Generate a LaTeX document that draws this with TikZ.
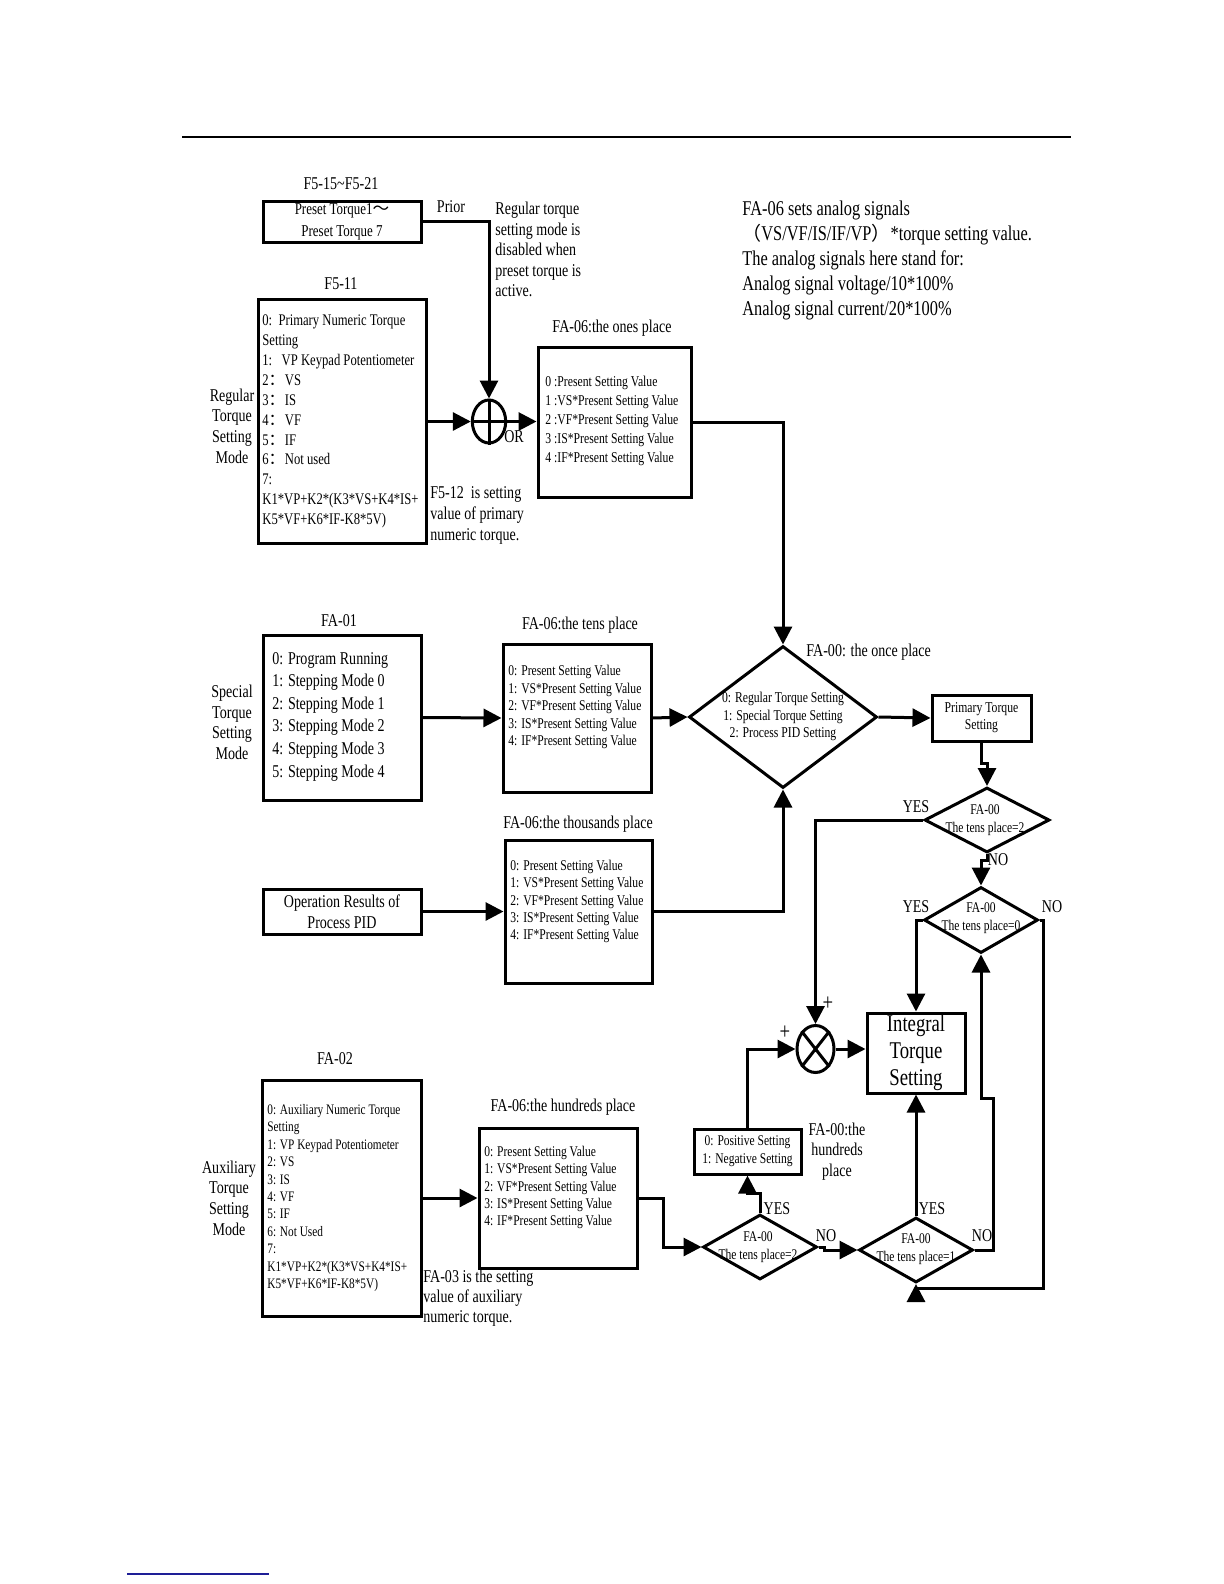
\documentclass[tikz,border=0pt]{standalone}
\usepackage{fontspec}
\setmainfont{Liberation Serif}[FakeStretch=0.78]
\newfontfamily\cjk{Noto Sans CJK SC}
\usetikzlibrary{arrows.meta,shapes.geometric}
\definecolor{linkblue}{RGB}{30,30,150}
\newcommand{\fsz}[2]{\fontsize{#1}{#2}\selectfont}
\tikzset{
  box/.style={draw, line width=1.5pt, inner sep=0pt, align=center},
  dia/.style={draw, diamond, line width=1.5pt, inner sep=0pt},
  sum/.style={draw, ellipse, line width=1.5pt, inner sep=0pt},
  arr/.style={line width=1.5pt, -{Triangle[length=9pt,width=9pt]}},
  lbl/.style={inner sep=0pt, font=\fsz{9}{10.3}},
  txt/.style={inner sep=0pt, align=left, anchor=west},
  dtx/.style={inner sep=0pt, align=center, font=\fsz{7.4}{9}},
}
\begin{document}
\begin{tikzpicture}[x=0.5pt,y=-0.5pt]
\useasboundingbox (0,0) rectangle (1224,1584);

% page rules
\draw[line width=0.6pt] (182,137) -- (1071,137);
\draw[linkblue, line width=0.8pt] (127,1574) -- (269,1574);

% regular torque
\node[lbl] (f515-t) at (341,184) {F5-15\textasciitilde F5-21};
\node[box, minimum width=79pt, minimum height=20.5pt, font=\fsz{8.3}{11}] (pre) at (342,221.5) {Preset Torque1{\cjk ～}\\Preset Torque 7};
\node[lbl] (prior) at (451,207) {Prior};
\node[lbl, txt] (note-pre) at (495,249.5) {Regular torque\\setting mode is\\disabled when\\preset torque is\\active.};

\node[lbl] (f511-t) at (341,284) {F5-11};
\node[box, minimum width=84pt, minimum height=122pt] (f511) at (342,421) {};
\node[txt, font=\fsz{8.1}{9.95}] (f511-x) at (262,421.5) {0:\ \ Primary Numeric Torque\\Setting\\1:\ \ \ VP Keypad Potentiometer\\2{\cjk ：}VS\\3{\cjk ：}IS\\4{\cjk ：}VF\\5{\cjk ：}IF\\6{\cjk ：}Not used\\7:\\K1*VP+K2*(K3*VS+K4*IS+\\K5*VF+K6*IF-K8*5V)};
\node[lbl, align=center] (reg) at (232,426) {Regular\\Torque\\Setting\\Mode};

\node[sum, minimum width=16.7pt, minimum height=21.5pt] (or) at (489,421.5) {};
\draw[line width=1.5pt] (or.north) -- (or.south) (or.west) -- (or.east);
\node[lbl] (or-t) at (514,437) {OR};
\node[lbl, txt, font=\fsz{9}{10.5}] (note-f512) at (430,515) {F5-12\ \ is setting\\value of primary\\numeric torque.};

\node[lbl] (ones-t) at (612,328) {FA-06:the ones place};
\node[box, minimum width=76.5pt, minimum height=75pt] (ones) at (614.5,422) {};
\node[txt, font=\fsz{7.5}{9.5}] (ones-x) at (545,421) {0 :Present Setting Value\\1 :VS*Present Setting Value\\2 :VF*Present Setting Value\\3 :IS*Present Setting Value\\4 :IF*Present Setting Value};

\node[txt, font=\fsz{10.5}{12.4}] (note-fa06) at (742,260.5) {FA-06 sets analog signals\\{\cjk\fsz{9.5}{12.4}（}VS/VF/IS/IF/VP{\cjk\fsz{9.5}{12.4}）}*torque setting value.\\The analog signals here stand for:\\Analog signal voltage/10*100\%\\Analog signal current/20*100\%};

% special torque
\node[lbl] (fa01-t) at (339,621) {FA-01};
\node[box, minimum width=79pt, minimum height=82.5pt] (fa01) at (342,717.5) {};
\node[txt, font=\fsz{9}{11.3}] (fa01-x) at (272,716.5) {0: Program Running\\1: Stepping Mode 0\\2: Stepping Mode 1\\3: Stepping Mode 2\\4: Stepping Mode 3\\5: Stepping Mode 4};
\node[lbl, align=center] (spc) at (232,722.5) {Special\\Torque\\Setting\\Mode};

\node[lbl] (tens-t) at (580,625) {FA-06:the tens place};
\node[box, minimum width=74pt, minimum height=74pt] (tens) at (577,718) {};
\node[txt, font=\fsz{7.45}{8.75}] (tens-x) at (508,707) {0: Present Setting Value\\1: VS*Present Setting Value\\2: VF*Present Setting Value\\3: IS*Present Setting Value\\4: IF*Present Setting Value};

\node[box, minimum width=79pt, minimum height=22.5pt, font=\fsz{9}{10.5}] (op) at (342,911.5) {Operation Results of\\Process PID};
\node[lbl] (th-t) at (578,824) {FA-06:the thousands place};
\node[box, minimum width=73.5pt, minimum height=71.5pt] (th) at (578.5,911.5) {};
\node[txt, font=\fsz{7.45}{8.7}] (th-x) at (510,901.5) {0: Present Setting Value\\1: VS*Present Setting Value\\2: VF*Present Setting Value\\3: IS*Present Setting Value\\4: IF*Present Setting Value};

% mode selection
\node[dia, minimum width=94pt, minimum height=71pt] (dm) at (783,717) {};
\node[inner sep=0pt, align=center, font=\fsz{7.5}{8.75}] (dm-x) at (783,716.5) {0: Regular Torque Setting\\1: Special Torque Setting\\2: Process PID Setting};
\node[lbl, anchor=west] (dm-t) at (806,652) {FA-00: the once place};
\node[box, minimum width=49.5pt, minimum height=23pt, font=\fsz{7.5}{8.5}] (prim) at (981.5,718) {Primary Torque\\Setting};

\node[dia, minimum width=62.5pt, minimum height=32.5pt] (d2) at (987,820) {};
\node[dtx] (d2-x) at (985,820) {FA-00\\The tens place=2};
\node[dia, minimum width=57pt, minimum height=33pt] (d3) at (981,920) {};
\node[dtx] (d3-x) at (981,918.5) {FA-00\\The tens place=0};

\node[box, minimum width=49pt, minimum height=40pt, font=\fsz{12}{13.6}] (int) at (916,1053) {Integral\\Torque\\Setting};
\node[sum, minimum width=18.5pt, minimum height=23.5pt] (mt) at (815.5,1049) {};
\draw[line width=1.5pt] (mt.52) -- (mt.232) (mt.128) -- (mt.308);
\node[inner sep=0pt, font=\fsz{12}{12}] (plus-a) at (828,1004) {+};
\node[inner sep=0pt, font=\fsz{12}{12}] (plus-b) at (785,1033) {+};

% auxiliary torque
\node[lbl] (fa02-t) at (335,1059) {FA-02};
\node[box, minimum width=79.5pt, minimum height=118pt] (fa02) at (341.5,1198) {};
\node[txt, font=\fsz{7.25}{8.7}] (fa02-x) at (267,1198) {0: Auxiliary Numeric Torque\\Setting\\1: VP Keypad Potentiometer\\2: VS\\3: IS\\4: VF\\5: IF\\6: Not Used\\7:\\K1*VP+K2*(K3*VS+K4*IS+\\K5*VF+K6*IF-K8*5V)};
\node[lbl, align=center] (aux) at (229,1198) {Auxiliary\\Torque\\Setting\\Mode};
\node[lbl] (hund-t) at (563,1107) {FA-06:the hundreds place};
\node[box, minimum width=79pt, minimum height=70pt] (hund) at (558,1198) {};
\node[txt, font=\fsz{7.4}{8.65}] (hund-x) at (484,1187.5) {0: Present Setting Value\\1: VS*Present Setting Value\\2: VF*Present Setting Value\\3: IS*Present Setting Value\\4: IF*Present Setting Value};
\node[lbl, txt, font=\fsz{9}{10}] (note-fa03) at (423,1298) {FA-03 is the setting\\value of auxiliary\\numeric torque.};

\node[dia, minimum width=57pt, minimum height=32.5pt] (d4) at (760,1247) {};
\node[dtx] (d4-x) at (758,1247) {FA-00\\The tens place=2};
\node[dia, minimum width=57pt, minimum height=32.5pt] (d5) at (916,1250) {};
\node[dtx] (d5-x) at (916,1249) {FA-00\\The tens place=1};
\node[box, minimum width=53.5pt, minimum height=22.5pt, font=\fsz{7.4}{9}] (pn) at (747.5,1151.5) {0: Positive Setting\\1: Negative Setting};
\node[lbl, align=center] (pn-t) at (837,1151.5) {FA-00:the\\hundreds\\place};

% yes / no
\node[lbl] (yes2) at (916,807) {YES};
\node[lbl] (no2) at (998,860) {NO};
\node[lbl] (yes3) at (916,907) {YES};
\node[lbl] (no3) at (1052,907) {NO};
\node[lbl] (yes4) at (777,1209) {YES};
\node[lbl] (no4) at (826,1236) {NO};
\node[lbl] (yes5) at (932,1209) {YES};
\node[lbl] (no5) at (982,1236) {NO};

% connectors
\draw[arr] (pre.east) -| (or.north);
\draw[arr] (f511.east |- or.west) -- (or.west);
\draw[arr] (or.east) -- (or.east -| ones.west);
\draw[arr] (ones.east) -| (dm.north);
\draw[arr] (fa01.east) -- (tens.west);
\draw[arr] (tens.east) -- (dm.west);
\draw[arr] (op.east) -- (th.west);
\draw[arr] (th.east) -| (dm.south);
\draw[arr] (dm.east) -- (prim.west);
\draw[arr] (prim.south) -- ++(0,21) -| (d2.north);
\draw[arr] (d2.west) -| (mt.north);
\draw[arr] (d2.south) -- ++(0,6) -| (d3.north);
\draw[arr] (d3.west) -| (int.north);
\coordinate (rb) at (1043,1288);
\draw[arr] (d3.east) -| (rb) -| (d5.south);
\draw[arr] (mt.east) -- (mt.east -| int.west);
\draw[arr] (fa02.east) -- (hund.west);
\draw[arr] (hund.east) -- ++(25,0) |- (d4.west);
\draw[arr] (d4.north) -- ++(0,-20) -| (pn.south);
\draw[arr] (pn.north) |- (mt.west);
\draw[arr] (d4.east) -- ++(6,0) |- (d5.west);
\draw[arr] (d5.north) -- (int.south);
\coordinate (rm) at (993,1098);
\draw[arr] (d5.east) -| (rm) -| (d3.south);

\end{tikzpicture}
\end{document}
